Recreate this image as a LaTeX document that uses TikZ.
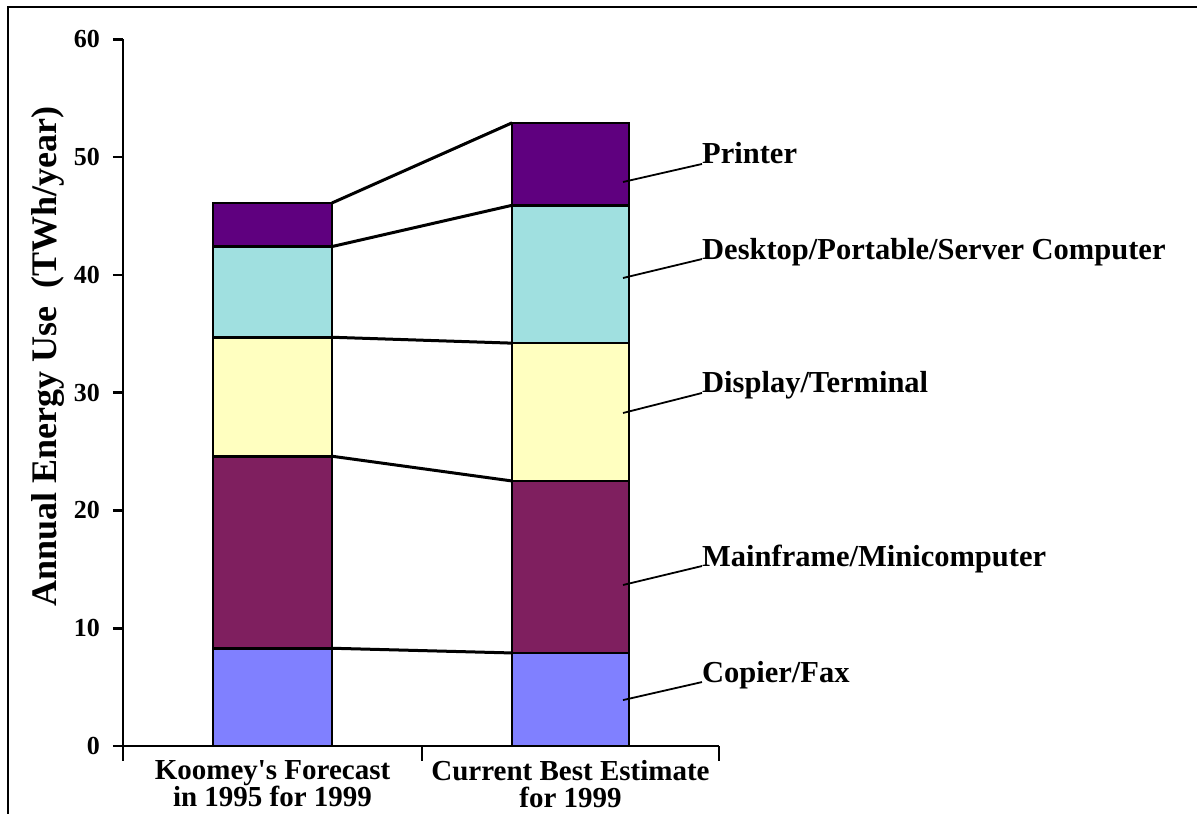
\documentclass[tikz,border=0pt]{standalone}
\usepackage{fontspec}
\setmainfont{Liberation Serif}
\usepackage{tikz}

\definecolor{copblue}{HTML}{8080FF}
\definecolor{mainplum}{HTML}{7F1F5F}
\definecolor{dispyellow}{HTML}{FFFFC0}
\definecolor{deskcyan}{HTML}{A0E0E0}
\definecolor{printpurple}{HTML}{5F007F}

\begin{document}
\begin{tikzpicture}[x=1pt,y=11.78pt,
  seg/.style={draw=black,line width=2.6pt},
  link/.style={line width=3pt},
  lead/.style={line width=1.8pt},
  axis/.style={line width=2.6pt},
  lbl/.style={anchor=base west,inner sep=0pt,font=\fontsize{30.5}{32}\selectfont\bfseries},
  tick/.style={anchor=east,inner sep=0pt,font=\fontsize{26}{28}\selectfont\bfseries},
  cat/.style={anchor=north,inner sep=0pt,align=center,font=\fontsize{29}{27}\selectfont\bfseries}]
\useasboundingbox (-123,-5.69) rectangle (1074,63.33);
\draw[line width=2.2pt] (1090,62.73) -- (-115,62.73) -- (-115,-7);

\draw[seg,fill=copblue] (90,0) rectangle (209,8.3) coordinate (k1);
\draw[seg,fill=mainplum] (90,8.3) rectangle (209,24.6) coordinate (k2);
\draw[seg,fill=dispyellow] (90,24.6) rectangle (209,34.7) coordinate (k3);
\draw[seg,fill=deskcyan] (90,34.7) rectangle (209,42.4) coordinate (k4);
\draw[seg,fill=printpurple] (90,42.4) rectangle (209,46.1) coordinate (k5);

\draw[seg,fill=copblue] (506,0) rectangle (389,7.9) coordinate (c1);
\draw[seg,fill=mainplum] (506,7.9) rectangle (389,22.5) coordinate (c2);
\draw[seg,fill=dispyellow] (506,22.5) rectangle (389,34.2) coordinate (c3);
\draw[seg,fill=deskcyan] (506,34.2) rectangle (389,45.9) coordinate (c4);
\draw[seg,fill=printpurple] (506,45.9) rectangle (389,52.9) coordinate (c5);

\draw[link] (k1) -- (c1);
\draw[link] (k2) -- (c2);
\draw[link] (k3) -- (c3);
\draw[link] (k4) -- (c4);
\draw[link] (k5) -- (c5);

\draw[axis] (0,60) -- (0,0) -- (596,0);
\draw[axis] (-10,0) -- (0,0) (-10,10) -- (0,10) (-10,20) -- (0,20)
  (-10,30) -- (0,30) (-10,40) -- (0,40) (-10,50) -- (0,50) (-10,60) -- (0,60);
\draw[axis] (0,0) -- (0,-1.3) (299,0) -- (299,-1.3) (596,0) -- (596,-1.3);

\node[tick] (t0) at (-23,0) {0};
\node[tick] (t10) at (-23,10) {10};
\node[tick] (t20) at (-23,20) {20};
\node[tick] (t30) at (-23,30) {30};
\node[tick] (t40) at (-23,40) {40};
\node[tick] (t50) at (-23,50) {50};
\node[tick] (t60) at (-23,60) {60};

\node[rotate=90,inner sep=0pt,font=\fontsize{36}{38}\selectfont\bfseries] (ylab) at (-75,33.1)
  {Annual Energy Use~~(TWh/year)};

\node[cat] (koomey) at (149.5,-1.2) {Koomey\textquotesingle s Forecast\\in 1995 for 1999};
\node[cat] (current) at (447.5,-1.2) {Current Best Estimate\\for 1999};

\node[lbl] (printer) at (579,49.41) {Printer};
\node[lbl] (desktop) at (579,41.34) {Desktop/Portable/Server Computer};
\node[lbl] (display) at (579,29.97) {Display/Terminal};
\node[lbl] (mainframe) at (579,15.28) {Mainframe/Minicomputer};
\node[lbl] (copier) at (579,5.43) {Copier/Fax};

\coordinate (pp) at (500,47.88);
\coordinate (pd) at (500,39.73);
\coordinate (pt) at (500,28.27);
\coordinate (pm) at (500,13.67);
\coordinate (pc) at (500,3.90);

\draw[lead] (pp) -- (printer.base west);
\draw[lead] (pd) -- (desktop.base west);
\draw[lead] (pt) -- (display.base west);
\draw[lead] (pm) -- (mainframe.base west);
\draw[lead] (pc) -- (copier.base west);
\end{tikzpicture}
\end{document}
